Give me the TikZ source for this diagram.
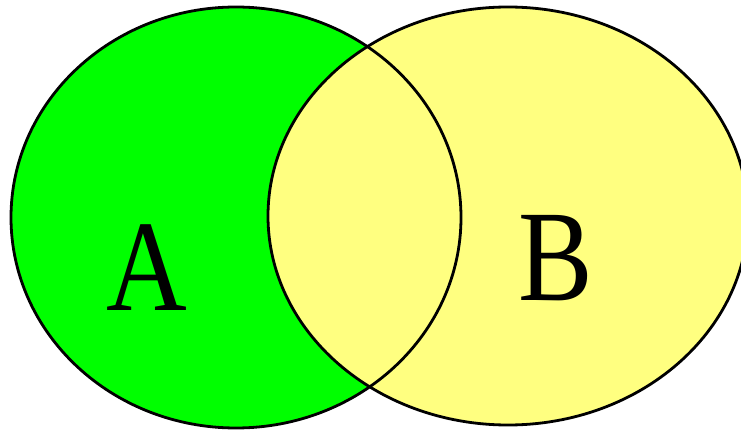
\documentclass[tikz,border=0pt]{standalone}
\usepackage{fontspec}
\setmainfont{Liberation Serif}
\definecolor{vgreen}{HTML}{00FF00}
\definecolor{vyellow}{HTML}{FFFF80}
\begin{document}
\begin{tikzpicture}[x=1pt,y=-1pt,
  outline/.style={draw=black,line width=2.8pt},
  setlabel/.style={font=\fontsize{130}{130}\selectfont,inner sep=0pt,anchor=base,xscale=0.86}]
\useasboundingbox (0,0) rectangle (741,430);
\clip (0,0) rectangle (741,430);
\fill[white] (0,0) rectangle (741,430);
\coordinate (cA) at (236,217.5);
\coordinate (cB) at (508,216);
\fill[vgreen] (cA) ellipse [x radius=225, y radius=210.5];
\fill[vyellow] (cB) ellipse [x radius=240, y radius=209];
\draw[outline] (cA) ellipse [x radius=225, y radius=210.5];
\draw[outline] (cB) ellipse [x radius=240, y radius=209];
\node[setlabel] (labA) at (147,310) {A};
\node[setlabel] (labB) at (556,300) {B};
\end{tikzpicture}
\end{document}
